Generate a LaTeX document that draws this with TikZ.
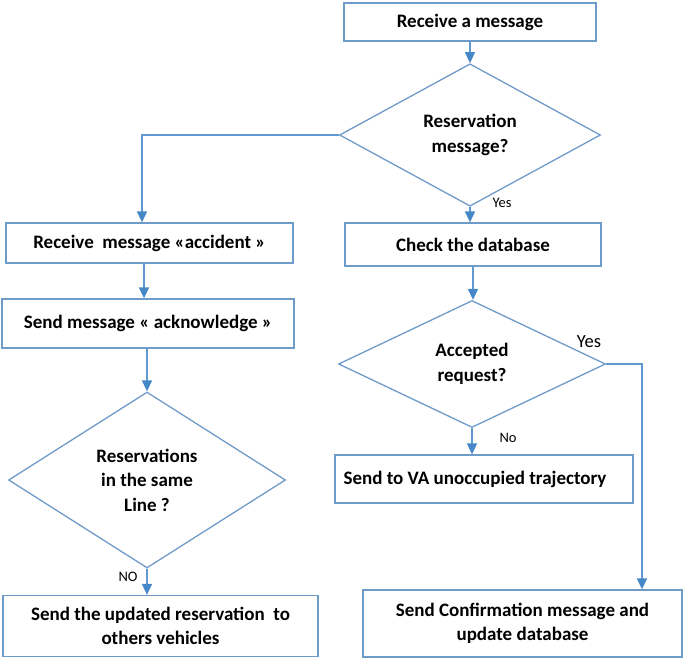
\documentclass[tikz,border=0pt]{standalone}
\usepackage{fontspec}
\setmainfont{Carlito}
\usetikzlibrary{shapes.geometric,arrows.meta}
\definecolor{boxc}{RGB}{110,155,200}
\definecolor{linec}{RGB}{96,152,208}
\definecolor{tipc}{RGB}{70,135,200}
\tikzset{
  box/.style={draw=boxc,line width=1.3pt,rectangle,inner sep=0pt,align=center,
    font=\fontsize{19}{23.5}\selectfont\bfseries},
  dec/.style={draw=boxc,line width=1.3pt,diamond,inner sep=0pt,align=center,
    font=\fontsize{19}{24.5}\selectfont\bfseries},
  conn/.style={draw=linec,line width=1.6pt,-{Triangle[width=10pt,length=11pt,fill=tipc,color=tipc]}},
  lab/.style={font=\fontsize{14.5}{17}\selectfont,inner sep=0pt}
}
\begin{document}
\begin{tikzpicture}[x=1pt,y=-1pt]
\useasboundingbox (0,0) rectangle (685,659);
% nodes
\node[box,minimum width=252pt,minimum height=38pt] (b1) at (470,22) {Receive a message};
\node[dec,minimum width=261pt,minimum height=125pt] (d1) at (470,135) {\raisebox{-2pt}{\begin{tabular}{@{}c@{}}Reservation\\message?\end{tabular}}};
\node[box,minimum width=287pt,minimum height=40pt] (b2) at (149.5,243) {Receive\ \ message «accident »};
\node[box,minimum width=292pt,minimum height=49pt] (b3) at (148,323.5) {Send message « acknowledge »};
\node[dec,minimum width=277pt,minimum height=176pt] (d3) at (147,480) {Reservations\\in the same\\Line ?};
\node[box,minimum width=315pt,minimum height=61pt] (b7) at (160.5,626) {Send the updated reservation\ \ to\\others vehicles};
\node[box,minimum width=256pt,minimum height=43pt] (b4) at (473,244.5) {Check the database};
\node[dec,minimum width=267pt,minimum height=127pt] (d2) at (472,364) {Accepted\\request?};
\node[box,minimum width=298pt,minimum height=48pt] (b5) at (484,479) {\hspace*{-18pt}Send to VA unoccupied trajectory};
\node[box,minimum width=319pt,minimum height=67pt] (b6) at (522.5,623.5) {Send Confirmation message and\\update database};
% labels
\node[lab] (l1) at (502,203) {Yes};
\node[lab,font=\fontsize{18.5}{20}\selectfont] (l2) at (589,342) {Yes};
\node[lab] (l3) at (508,438) {No};
\node[lab] (l4) at (128,577) {NO};
% connectors
\draw[conn] (b1.south) -- (d1.north);
\draw[conn] (d1.west) -| ([xshift=-7.5pt]b2.north);
\draw[conn] ([xshift=-5.5pt]b2.south) -- ([xshift=-4pt]b3.north);
\draw[conn] (d3.north |- b3.south) -- (d3.north);
\draw[conn] (d3.south) -- (d3.south |- b7.north);
\draw[conn] (d1.south) -- (d1.south |- b4.north);
\draw[conn] (b4.south) -- (d2.north -| b4.south);
\draw[conn] (d2.south) -- (d2.south |- b5.north);
\draw[conn] (d2.east) -| ([xshift=119.5pt]b6.north);
\end{tikzpicture}
\end{document}
